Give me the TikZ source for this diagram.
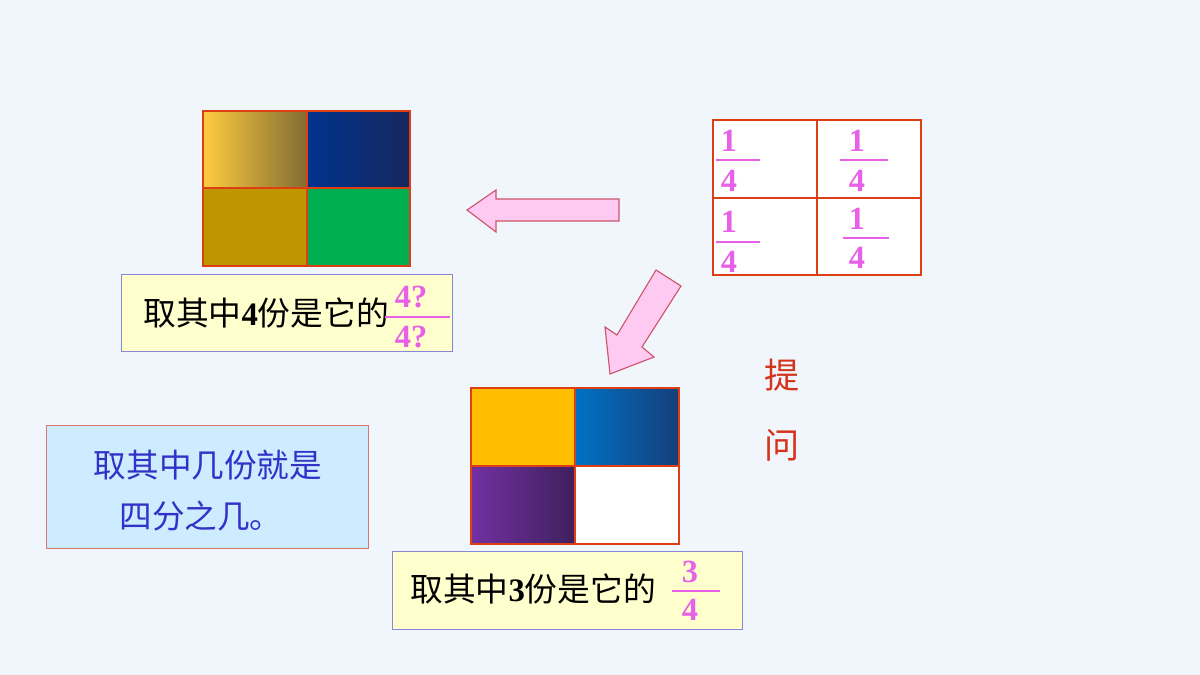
\documentclass[tikz,border=0pt]{standalone}
\usepackage{fontspec}
\setmainfont{Liberation Serif}
\newfontfamily\cjk{Noto Sans CJK SC}
\definecolor{bgcol}{RGB}{240,246,252}
\definecolor{gridred}{RGB}{222,62,20}
\definecolor{fracpink}{RGB}{232,96,232}
\definecolor{arrowfill}{RGB}{255,202,242}
\definecolor{arrowline}{RGB}{205,85,105}
\definecolor{labelfill}{RGB}{255,255,206}
\definecolor{labelline}{RGB}{135,135,215}
\definecolor{notefill}{RGB}{206,236,255}
\definecolor{noteline}{RGB}{212,120,110}
\definecolor{notetext}{RGB}{50,50,200}
\definecolor{asktext}{RGB}{212,52,28}
\tikzset{
  gridline/.style={draw=gridred,line width=2pt},
  labelbox/.style={draw=labelline,fill=labelfill,line width=0.8pt},
  fatarrow/.style={draw=arrowline,fill=arrowfill,line width=0.8pt,line join=miter},
  fracnum/.style={text=fracpink,font=\fontsize{23}{26}\selectfont\bfseries,inner sep=0pt},
  fracbar/.style={draw=fracpink,line width=1.2pt},
  blacktext/.style={font=\fontsize{23.3}{27}\selectfont,inner sep=0pt,anchor=west},
  notestyle/.style={text=notetext,font=\cjk\fontsize{23.2}{27}\selectfont,inner sep=0pt},
}
\begin{document}
\begin{tikzpicture}[x=0.025cm,y=-0.025cm]
\fill[bgcol] (0,0) rectangle (1200,675);
\useasboundingbox (0,0) rectangle (1200,675);

% ---- top-left coloured grid
\shade[left color={rgb,255:red,255;green,204;blue,64},right color={rgb,255:red,128;green,108;blue,50}] (203,111) rectangle (307,188);
\shade[left color={rgb,255:red,0;green,50;blue,142},right color={rgb,255:red,22;green,40;blue,92}] (307,111) rectangle (410,188);
\fill[color={rgb,255:red,192;green,150;blue,0}] (203,188) rectangle (307,266);
\fill[color={rgb,255:red,0;green,176;blue,80}] (307,188) rectangle (410,266);
\draw[gridline] (203,111) rectangle (410,266);
\draw[gridline] (307,111) -- (307,266);
\draw[gridline] (203,188) -- (410,188);
\coordinate (gA) at (306,188);

% ---- label box 1
\node[labelbox,minimum width=331*0.025cm,minimum height=77*0.025cm,anchor=north west] (lab1) at (121,274) {};
\node[blacktext] (t1) at (143,313) {{\cjk 取其中}\textbf{4}{\cjk 份是它的}};
\node[fracnum] (n1) at (411,297) {4?};
\node[fracnum] (d1) at (411,337) {4?};
\coordinate (b1s) at (385,317);
\coordinate (b1e) at (450,317);
\draw[fracbar] (b1s) -- (b1e);

% ---- right white grid with fractions
\fill[white] (713,120) rectangle (921,275);
\draw[gridline] (713,120) rectangle (921,275);
\draw[gridline] (817,120) -- (817,275);
\draw[gridline] (713,198) -- (921,198);
\coordinate (gB) at (817,198);
\node[fracnum] (q1n) at (729,141) {1};
\node[fracnum] (q1d) at (729,181) {4};
\draw[fracbar] (716,160) -- (760,160);
\node[fracnum] (q2n) at (857,141) {1};
\node[fracnum] (q2d) at (857,181) {4};
\draw[fracbar] (840,160) -- (888,160);
\node[fracnum] (q3n) at (729,222) {1};
\node[fracnum] (q3d) at (729,262) {4};
\draw[fracbar] (716,242) -- (760,242);
\node[fracnum] (q4n) at (857,219) {1};
\node[fracnum] (q4d) at (857,258) {4};
\draw[fracbar] (843,238) -- (889,238);

% ---- left arrow
\draw[fatarrow] (619,199) -- (496,199) -- (496,190) -- (467,210) -- (496,232) -- (496,221) -- (619,221) -- cycle;

% ---- diagonal arrow
\draw[fatarrow] (656,270) -- (681,286) -- (642,347) -- (654,357) -- (610,374) -- (605,327) -- (617,335) -- cycle;

% ---- bottom coloured grid
\fill[color={rgb,255:red,255;green,190;blue,0}] (471,388) rectangle (575,466);
\shade[left color={rgb,255:red,0;green,114;blue,196},right color={rgb,255:red,22;green,62;blue,122}] (575,388) rectangle (679,466);
\shade[left color={rgb,255:red,114;green,48;blue,162},right color={rgb,255:red,62;green,32;blue,92}] (471,466) rectangle (575,544);
\fill[white] (575,466) rectangle (679,544);
\draw[gridline] (471,388) rectangle (679,544);
\draw[gridline] (575,388) -- (575,544);
\draw[gridline] (471,466) -- (679,466);
\coordinate (gC) at (575,466);

% ---- label box 2
\node[labelbox,minimum width=350*0.025cm,minimum height=78*0.025cm,anchor=north west] (lab2) at (392,551) {};
\node[blacktext] (t2) at (410,589) {{\cjk 取其中}\textbf{3}{\cjk 份是它的}};
\node[fracnum] (n2) at (690,572) {3};
\node[fracnum] (d2) at (690,610) {4};
\coordinate (b2s) at (672,591);
\coordinate (b2e) at (720,591);
\draw[fracbar] (b2s) -- (b2e);

% ---- note box
\node[draw=noteline,fill=notefill,line width=0.8pt,minimum width=322*0.025cm,minimum height=123*0.025cm,anchor=north west] (note) at (46,425) {};
\node[notestyle] (nl1) at (208,465) {取其中几份就是};
\node[notestyle] (nl2) at (201,516) {四分之几。};

% ---- ask
\node[text=asktext,font=\cjk\fontsize{25}{28}\selectfont,inner sep=0pt] (ask1) at (782,375) {提};
\node[text=asktext,font=\cjk\fontsize{25}{28}\selectfont,inner sep=0pt] (ask2) at (782,445) {问};
\end{tikzpicture}
\end{document}
